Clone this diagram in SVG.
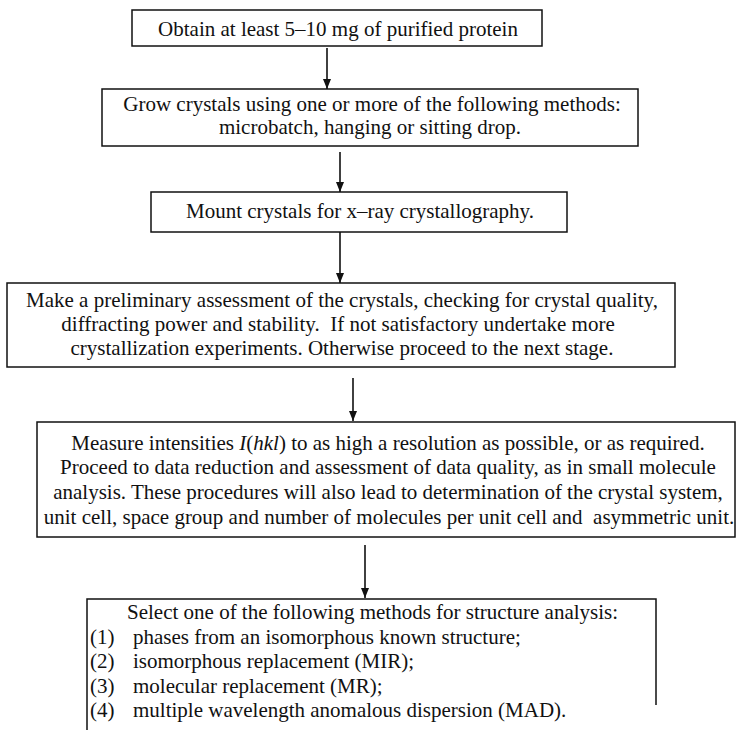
<svg xmlns="http://www.w3.org/2000/svg" width="737" height="730" viewBox="0 0 737 730">
<style>
.box{fill:#fff;stroke:#111;stroke-width:1.5}
.t{font-family:"Liberation Serif","Times New Roman",serif;font-size:21px;fill:#111}
.m{text-anchor:middle}
.c{stroke:#111;stroke-width:1.6;fill:none}
</style>
<defs>
<marker id="ah" markerWidth="10" markerHeight="12" refX="10" refY="5" orient="auto" markerUnits="userSpaceOnUse">
<path d="M0,1 L10,5 L0,9 Z" fill="#111"/>
</marker>
</defs>
<rect width="737" height="730" fill="#fff"/>
<g id="n1">
<rect class="box" x="132" y="10" width="410" height="36"/>
<text class="t m" x="338" y="36">Obtain at least 5–10 mg of purified protein</text>
</g>
<g id="n2">
<rect class="box" x="102" y="89" width="536" height="57"/>
<text class="t m" x="372" y="111">Grow crystals using one or more of the following methods:</text>
<text class="t m" x="370" y="134">microbatch, hanging or sitting drop.</text>
</g>
<g id="n3">
<rect class="box" x="151" y="192" width="416" height="40"/>
<text class="t m" x="360" y="218">Mount crystals for x–ray crystallography.</text>
</g>
<g id="n4">
<rect class="box" x="7" y="283" width="668" height="84"/>
<text class="t m" x="342" y="307">Make a preliminary assessment of the crystals, checking for crystal quality,</text>
<text class="t m" x="338" y="331" xml:space="preserve">diffracting power and stability.  If not satisfactory undertake more</text>
<text class="t m" x="342" y="355">crystallization experiments. Otherwise proceed to the next stage.</text>
</g>
<g id="n5">
<rect class="box" x="37" y="422" width="698" height="115"/>
<text class="t m" x="388" y="450">Measure intensities <tspan font-style="italic">I</tspan>(<tspan font-style="italic">hkl</tspan>) to as high a resolution as possible, or as required.</text>
<text class="t m" x="388" y="474">Proceed to data reduction and assessment of data quality, as in small molecule</text>
<text class="t m" x="388" y="499">analysis. These procedures will also lead to determination of the crystal system,</text>
<text class="t m" x="389" y="524" xml:space="preserve">unit cell, space group and number of molecules per unit cell and  asymmetric unit.</text>
</g>
<g id="n6">
<path class="box" d="M87,730 L87,599 L656,599 L656,705" fill="none"/>
<text class="t" x="127" y="619">Select one of the following methods for structure analysis:</text>
<text class="t" x="90" y="644">(1)</text><text class="t" x="133" y="644">phases from an isomorphous known structure;</text>
<text class="t" x="90" y="668">(2)</text><text class="t" x="133" y="668">isomorphous replacement (MIR);</text>
<text class="t" x="90" y="693">(3)</text><text class="t" x="133" y="693">molecular replacement (MR);</text>
<text class="t" x="90" y="717">(4)</text><text class="t" x="133" y="717">multiple wavelength anomalous dispersion (MAD).</text>
</g>
<g id="connectors">
<line class="c" x1="327" y1="48" x2="327" y2="89" marker-end="url(#ah)"/>
<line class="c" x1="340" y1="152" x2="340" y2="192" marker-end="url(#ah)"/>
<line class="c" x1="340" y1="232" x2="340" y2="283" marker-end="url(#ah)"/>
<line class="c" x1="353" y1="378" x2="353" y2="421" marker-end="url(#ah)"/>
<line class="c" x1="365" y1="545" x2="365" y2="598" marker-end="url(#ah)"/>
</g>
</svg>
